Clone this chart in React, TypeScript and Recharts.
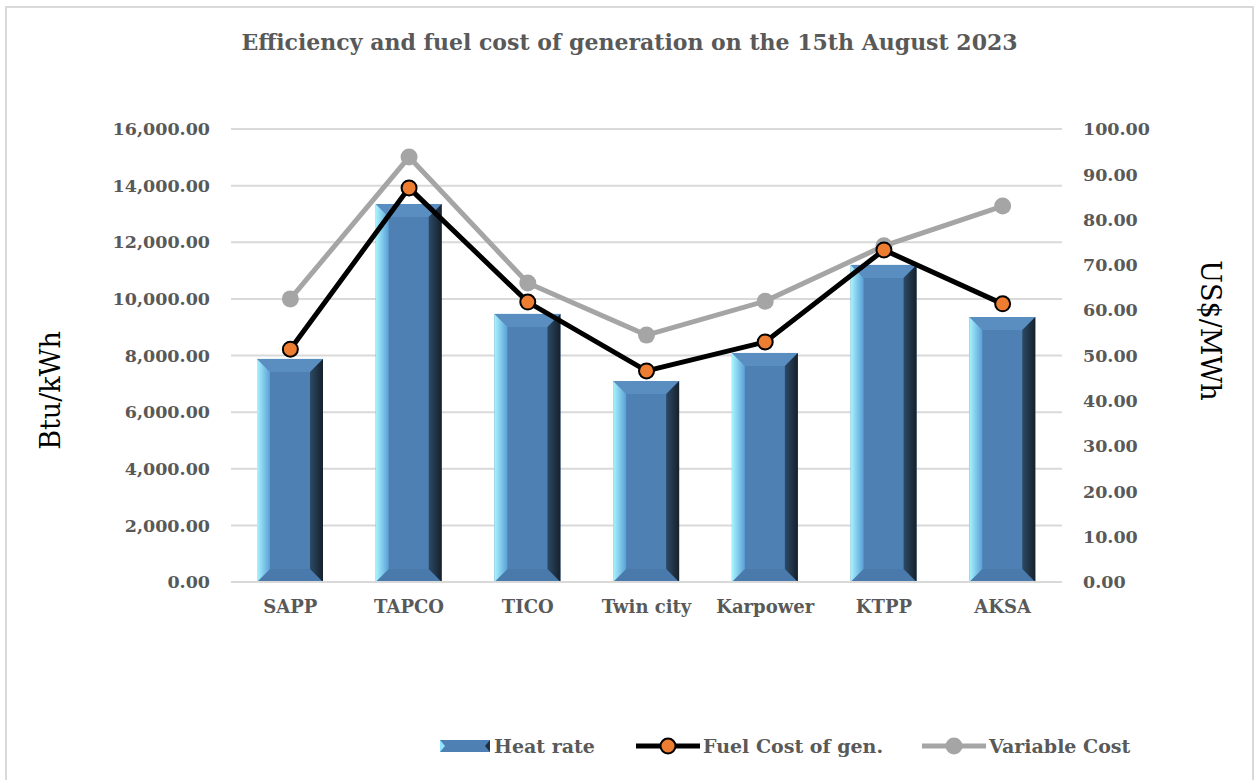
import { ComposedChart, Bar, Line, XAxis, YAxis, CartesianGrid } from 'recharts';

const plants = ['SAPP', 'TAPCO', 'TICO', 'Twin city', 'Karpower', 'KTPP', 'AKSA'];
const heatRate = [7880, 13350, 9470, 7100, 8090, 11200, 9360];
const fuelCost = [51.4, 87.0, 61.8, 46.6, 53.0, 73.3, 61.4];
const variableCost = [62.5, 93.8, 66.0, 54.5, 62.0, 74.2, 83.0];
const leftTicks = [0, 2000, 4000, 6000, 8000, 10000, 12000, 14000, 16000];
const rightTicks = [0, 10, 20, 30, 40, 50, 60, 70, 80, 90, 100];

const data = plants.map((name, i) => ({
    name,
    heatRate: heatRate[i],
    fuelCost: fuelCost[i],
    variableCost: variableCost[i]
}));

const TEXT = '#595959';
const FONT = '"DejaVu Serif", serif';

const fmt = (v: number) =>
    v.toLocaleString('en-US', { minimumFractionDigits: 2, maximumFractionDigits: 2 });

// bevelled bar, like the Office "relaxed inset" look
const BevelBar = (props: any) => {
    const { x, y, width: w, height: h } = props;
    if (!h || h <= 0) return null;
    const b = Math.min(13, w / 2, h / 2);
    return (
        <g>
            <rect x={x} y={y} width={w} height={h} fill="#4e80b3" />
            <polygon points={`${x},${y} ${x + w},${y} ${x + w - b},${y + b} ${x + b},${y + b}`} fill="#5a8dc0" />
            <polygon points={`${x},${y + h} ${x + w},${y + h} ${x + w - b},${y + h - b} ${x + b},${y + h - b}`} fill="#4a7aab" />
            <polygon points={`${x},${y} ${x + b},${y + b} ${x + b},${y + h - b} ${x},${y + h}`} fill="url(#bevelLeft)" />
            <polygon points={`${x + w},${y} ${x + w - b},${y + b} ${x + w - b},${y + h - b} ${x + w},${y + h}`} fill="url(#bevelRight)" />
        </g>
    );
};

const FuelDot = (props: any) => (
    <circle cx={props.cx} cy={props.cy} r={7.5} fill="#ed7d31" stroke="#000" strokeWidth={2} />
);

const VarDot = (props: any) => (
    <circle cx={props.cx} cy={props.cy} r={8.5} fill="#a5a5a5" />
);

// axis titles sit off-centre in the original, so place them against the plot's viewBox
const LeftTitle = (props: any) => {
    const vb = props.viewBox || {};
    const cx = 50;
    const cy = (vb.y ?? 129) + (vb.height ?? 453) / 2 + 35;
    return (
        <text x={cx} y={cy} transform={`rotate(-90 ${cx} ${cy})`} textAnchor="middle" dominantBaseline="central"
            fontFamily={FONT} fontSize={27} fill="#000">Btu/kWh</text>
    );
};

const RightTitle = (props: any) => {
    const vb = props.viewBox || {};
    const cx = 1210;
    const cy = (vb.y ?? 129) + (vb.height ?? 453) / 2 - 25;
    return (
        <text x={cx} y={cy} transform={`rotate(90 ${cx} ${cy})`} textAnchor="middle" dominantBaseline="central"
            fontFamily={FONT} fontSize={27} fill="#000">US$/MWh</text>
    );
};

const LegendRow = () => (
    <svg width={1259} height={40} style={{ position: 'absolute', left: 0, top: 727 }}>
        <g transform="translate(440,13)">
            <rect x={0} y={0} width={50} height={12} fill="#4e80b3" />
            <polygon points="0,0 5,6 0,12" fill="#8fe6ff" />
            <polygon points="50,0 45,6 50,12" fill="#1e2f40" />
        </g>
        <text x={494} y={26} fontFamily={FONT} fontWeight="bold" fontSize={19} fill={TEXT}>Heat rate</text>
        <line x1={636} y1={19} x2={700} y2={19} stroke="#000" strokeWidth={5} />
        <circle cx={668} cy={19} r={7.5} fill="#ed7d31" stroke="#000" strokeWidth={2} />
        <text x={703} y={26} fontFamily={FONT} fontWeight="bold" fontSize={19} fill={TEXT}>Fuel Cost of gen.</text>
        <line x1={922} y1={19} x2={986} y2={19} stroke="#a5a5a5" strokeWidth={5} />
        <circle cx={954} cy={19} r={8.5} fill="#a5a5a5" />
        <text x={989} y={26} fontFamily={FONT} fontWeight="bold" fontSize={19} fill={TEXT}>Variable Cost</text>
    </svg>
);

export default function App() {
    return (
        <div style={{ position: 'absolute', left: 0, top: 0, width: 1259, height: 780, background: '#fff', overflow: 'hidden' }}>
            <div style={{
                position: 'absolute', left: 5, top: 6, width: 1249, height: 800,
                border: '2px solid #d9d9d9', boxSizing: 'border-box'
            }} />
            <div style={{
                position: 'absolute', left: 0, top: 29, width: 1259, textAlign: 'center',
                fontFamily: FONT, fontWeight: 'bold', fontSize: 22, color: TEXT
            }}>
                Efficiency and fuel cost of generation on the 15th August 2023
            </div>
            <div style={{ position: 'absolute', left: 0, top: 0 }}>
                <ComposedChart width={1259} height={780} data={data}
                    margin={{ top: 129, right: 0, bottom: 158, left: 0 }}>
                    <defs>
                        <linearGradient id="bevelLeft" x1="0" y1="0" x2="1" y2="0">
                            <stop offset="0%" stopColor="#a8f4ff" />
                            <stop offset="100%" stopColor="#5aa0d6" />
                        </linearGradient>
                        <linearGradient id="bevelRight" x1="0" y1="0" x2="1" y2="0">
                            <stop offset="0%" stopColor="#2c4a66" />
                            <stop offset="100%" stopColor="#16202b" />
                        </linearGradient>
                    </defs>
                    <CartesianGrid yAxisId="left" vertical={false} stroke="#d9d9d9" strokeWidth={2} />
                    <XAxis dataKey="name" height={40} axisLine={{ stroke: '#d9d9d9', strokeWidth: 2 }}
                        tickLine={false} tickSize={0} tickMargin={18}
                        tick={{ fill: TEXT, fontFamily: FONT, fontWeight: 'bold', fontSize: 18 }} />
                    <YAxis yAxisId="left" width={231} domain={[0, 16000]} ticks={leftTicks}
                        tickFormatter={fmt} axisLine={false} tickLine={false} tickSize={0} tickMargin={21}
                        tick={{ fill: TEXT, fontFamily: FONT, fontWeight: 'bold', fontSize: 17.5 }}
                        label={<LeftTitle />} />
                    <YAxis yAxisId="right" orientation="right" width={197} domain={[0, 100]} ticks={rightTicks}
                        tickFormatter={fmt} axisLine={false} tickLine={false} tickSize={0} tickMargin={21}
                        tick={{ fill: TEXT, fontFamily: FONT, fontWeight: 'bold', fontSize: 17.5 }}
                        label={<RightTitle />} />
                    <Bar yAxisId="left" dataKey="heatRate" barSize={66} shape={<BevelBar />} isAnimationActive={false} />
                    <Line yAxisId="right" dataKey="variableCost" stroke="#a5a5a5" strokeWidth={5}
                        dot={<VarDot />} activeDot={false} isAnimationActive={false} />
                    <Line yAxisId="right" dataKey="fuelCost" stroke="#000" strokeWidth={5}
                        dot={<FuelDot />} activeDot={false} isAnimationActive={false} />
                </ComposedChart>
            </div>
            <LegendRow />
        </div>
    );
}
